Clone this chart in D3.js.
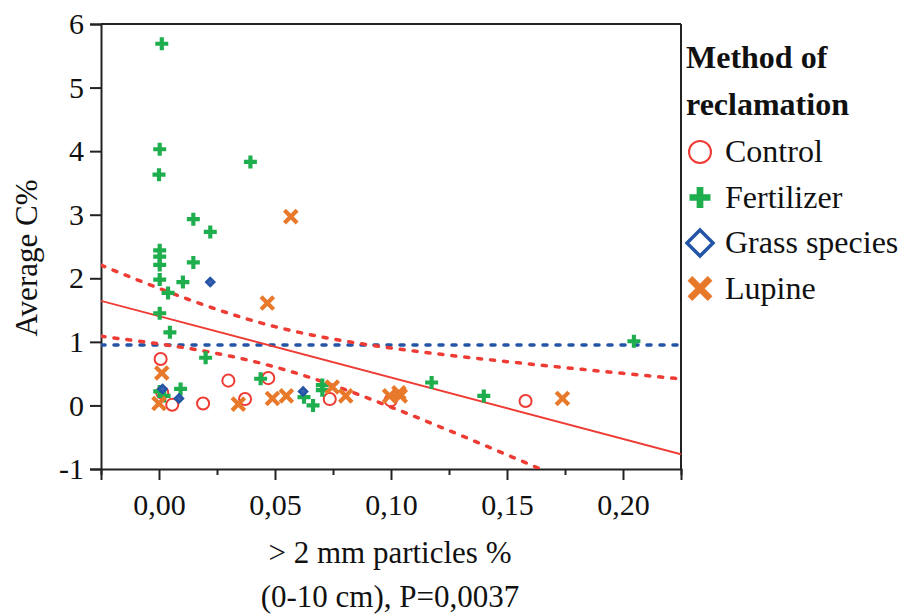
<!DOCTYPE html>
<html>
<head>
<meta charset="utf-8">
<script src="https://cdn.jsdelivr.net/npm/d3@7"></script>
<style>
  body { margin: 0; background: #fff; }
  text { font-family: "Liberation Serif", "Times New Roman", serif; fill: #111; }
</style>
</head>
<body>
<script>
// data: [x, y]
var control = [[0.0007, 0.73], [0.0014, 0.20], [0.0057, 0.01], [0.019, 0.03], [0.0299, 0.39],
  [0.0371, 0.10], [0.0471, 0.43], [0.0736, 0.10], [0.0999, 0.08], [0.158, 0.07]];
var fertilizer = [[0.0012, 5.69], [0.0003, 4.03], [0.0, 3.63], [0.0394, 3.83], [0.0148, 2.93],
  [0.0221, 2.73], [0.0003, 2.44], [0.0003, 2.34], [0.0003, 2.21], [0.0148, 2.25], [0.0003, 1.98],
  [0.0103, 1.94], [0.0039, 1.77], [0.0003, 1.45], [0.0047, 1.15], [0.0201, 0.75], [0.0438, 0.42],
  [0.0003, 0.22], [0.0022, 0.15], [0.0093, 0.26], [0.0625, 0.13], [0.0664, 0.0], [0.0704, 0.24],
  [0.0704, 0.32], [0.1175, 0.36], [0.140, 0.15], [0.2047, 1.01]];
var grass = [[0.0221, 1.94], [0.0086, 0.11], [0.0621, 0.22], [0.0015, 0.26]];
var lupine = [[0.0568, 2.97], [0.0467, 1.61], [0.0012, 0.51], [0.0, 0.03], [0.0342, 0.02],
  [0.0489, 0.11], [0.0549, 0.15], [0.0747, 0.29], [0.0805, 0.15], [0.0994, 0.15], [0.1034, 0.20],
  [0.1040, 0.15], [0.1739, 0.11]];

var groups = ["Control", "Fertilizer", "Grass species", "Lupine"];
var xTicks = [0, 0.05, 0.10, 0.15, 0.20];
var xMinor = [-0.025, 0.025, 0.075, 0.125, 0.175, 0.225];
var yTicks = [-1, 0, 1, 2, 3, 4, 5, 6];

// fitted line, its confidence band and the reference line
var fitIntercept = 1.405, fitSlope = -9.66;
var bandMin = 0.1, bandCurv = 41.2, bandCenter = 0.047;
var refLevel = 0.95;

var colors = {"Control": "#ee3b33", "Fertilizer": "#1fae4d", "Grass species": "#2454a6", "Lupine": "#e8782a"};

var W = 901, H = 616;
var svg = d3.select("body").append("svg").attr("width", W).attr("height", H);

var x = d3.scaleLinear().domain([-0.025, 0.225]).range([101, 681]);
var y = d3.scaleLinear().domain([-1, 6]).range([469, 24]);

var fmt = function(d) { return d3.format(".2f")(d).replace(".", ","); };

// frame
svg.append("line").attr("x1", x(-0.025)).attr("x2", x(0.225)).attr("y1", y(6)).attr("y2", y(6))
  .attr("stroke", "#222").attr("stroke-width", 2);
svg.append("line").attr("x1", x(0.225)).attr("x2", x(0.225)).attr("y1", y(6)).attr("y2", y(-1))
  .attr("stroke", "#222").attr("stroke-width", 2);

// axes
svg.append("g").attr("transform", "translate(0," + y(-1) + ")")
  .call(d3.axisBottom(x).tickValues(xTicks).tickFormat(fmt).tickSize(11).tickPadding(14));
svg.append("g").attr("transform", "translate(0," + y(-1) + ")")
  .call(d3.axisBottom(x).tickValues(xMinor).tickFormat("").tickSize(6))
  .select(".domain").remove();
svg.append("g").attr("transform", "translate(" + x(-0.025) + ",0)")
  .call(d3.axisLeft(y).tickValues(yTicks).tickFormat(function(d) { return d < 0 ? "-" + Math.abs(d) : d; })
    .tickSize(11).tickPadding(6));

svg.selectAll(".domain").attr("stroke", "#222").attr("stroke-width", 2);
svg.selectAll(".tick line").attr("stroke", "#222").attr("stroke-width", 2);
svg.selectAll(".tick text").attr("font-family", "Liberation Serif").attr("font-size", 30).attr("fill", "#111");

// axis titles
svg.append("text").attr("transform", "translate(37,258) rotate(-90)")
  .attr("text-anchor", "middle").attr("font-size", 31).text("Average C%");
svg.append("text").attr("x", 390).attr("y", 563).attr("text-anchor", "middle")
  .attr("font-size", 31).text("> 2 mm particles %");
svg.append("text").attr("x", 390).attr("y", 607).attr("text-anchor", "middle")
  .attr("font-size", 31).text("(0-10 cm), P=0,0037");

// clip for lines
svg.append("clipPath").attr("id", "plot").append("rect")
  .attr("x", x(-0.025)).attr("y", y(6)).attr("width", x(0.225) - x(-0.025)).attr("height", y(-1) - y(6));
var lines = svg.append("g").attr("clip-path", "url(#plot)");

var fit = function(v) { return fitIntercept + fitSlope * v; };
var half = function(v) { return Math.sqrt(bandMin + bandCurv * (v - bandCenter) * (v - bandCenter)); };
var xs = d3.range(-0.025, 0.2251, 0.0025);

lines.append("line").attr("x1", x(-0.025)).attr("x2", x(0.225)).attr("y1", y(refLevel)).attr("y2", y(refLevel))
  .attr("stroke", "#2454a6").attr("stroke-width", 3.5).attr("stroke-dasharray", "4,9").attr("stroke-linecap", "round");

var line = d3.line().x(function(d) { return x(d[0]); }).y(function(d) { return y(d[1]); });
lines.append("path").attr("d", line(xs.map(function(v) { return [v, fit(v) + half(v)]; })))
  .attr("fill", "none").attr("stroke", "#ee3b33").attr("stroke-width", 3.5)
  .attr("stroke-dasharray", "4,9").attr("stroke-linecap", "round");
lines.append("path").attr("d", line(xs.map(function(v) { return [v, fit(v) - half(v)]; })))
  .attr("fill", "none").attr("stroke", "#ee3b33").attr("stroke-width", 3.5)
  .attr("stroke-dasharray", "4,9").attr("stroke-linecap", "round");
lines.append("line").attr("x1", x(-0.025)).attr("x2", x(0.225)).attr("y1", y(fit(-0.025))).attr("y2", y(fit(0.225)))
  .attr("stroke", "#ee3b33").attr("stroke-width", 1.8);

// marker drawing
function marker(g, kind, s, small) {
  var c = colors[kind];
  if (kind == "Control") {
    g.append("circle").attr("r", s * 0.55).attr("fill", "none").attr("stroke", c).attr("stroke-width", 2);
  } else if (kind == "Fertilizer") {
    g.append("path").attr("d", "M" + (-s * 0.5) + ",0H" + (s * 0.5) + "M0," + (-s * 0.5) + "V" + (s * 0.5))
      .attr("stroke", c).attr("stroke-width", s * 0.32);
  } else if (kind == "Grass species") {
    g.append("path").attr("d", "M0," + (-s * 0.5) + "L" + (s * 0.5) + ",0L0," + (s * 0.5) + "L" + (-s * 0.5) + ",0Z")
      .attr("fill", small ? "#3a64b0" : "none").attr("stroke", c).attr("stroke-width", small ? 2.5 : 3.5);
  } else {
    g.append("path").attr("d", "M" + (-s * 0.42) + "," + (-s * 0.42) + "L" + (s * 0.42) + "," + (s * 0.42) +
      "M" + (s * 0.42) + "," + (-s * 0.42) + "L" + (-s * 0.42) + "," + (s * 0.42))
      .attr("stroke", c).attr("stroke-width", s * 0.28);
  }
}

var series = [control, fertilizer, grass, lupine];
var sizes = [11, 13, 8, 15];
series.forEach(function(data, i) {
  svg.append("g").selectAll("g").data(data).enter().append("g")
    .attr("transform", function(d) { return "translate(" + x(d[0]) + "," + y(d[1]) + ")"; })
    .each(function() { marker(d3.select(this), groups[i], sizes[i], true); });
});

// legend
var legend = svg.append("g");
legend.append("text").attr("x", 686).attr("y", 68).attr("font-size", 32).attr("font-weight", "bold").text("Method of");
legend.append("text").attr("x", 686).attr("y", 115).attr("font-size", 32).attr("font-weight", "bold").text("reclamation");
var legSizes = [20, 21, 26, 24];
groups.forEach(function(gname, i) {
  var row = legend.append("g").attr("transform", "translate(0," + (152 + i * 45.5) + ")");
  marker(row.append("g").attr("transform", "translate(700,0)"), gname, legSizes[i], false);
  row.append("text").attr("x", 725).attr("y", 10).attr("font-size", 32).text(gname);
});
</script>
</body>
</html>
